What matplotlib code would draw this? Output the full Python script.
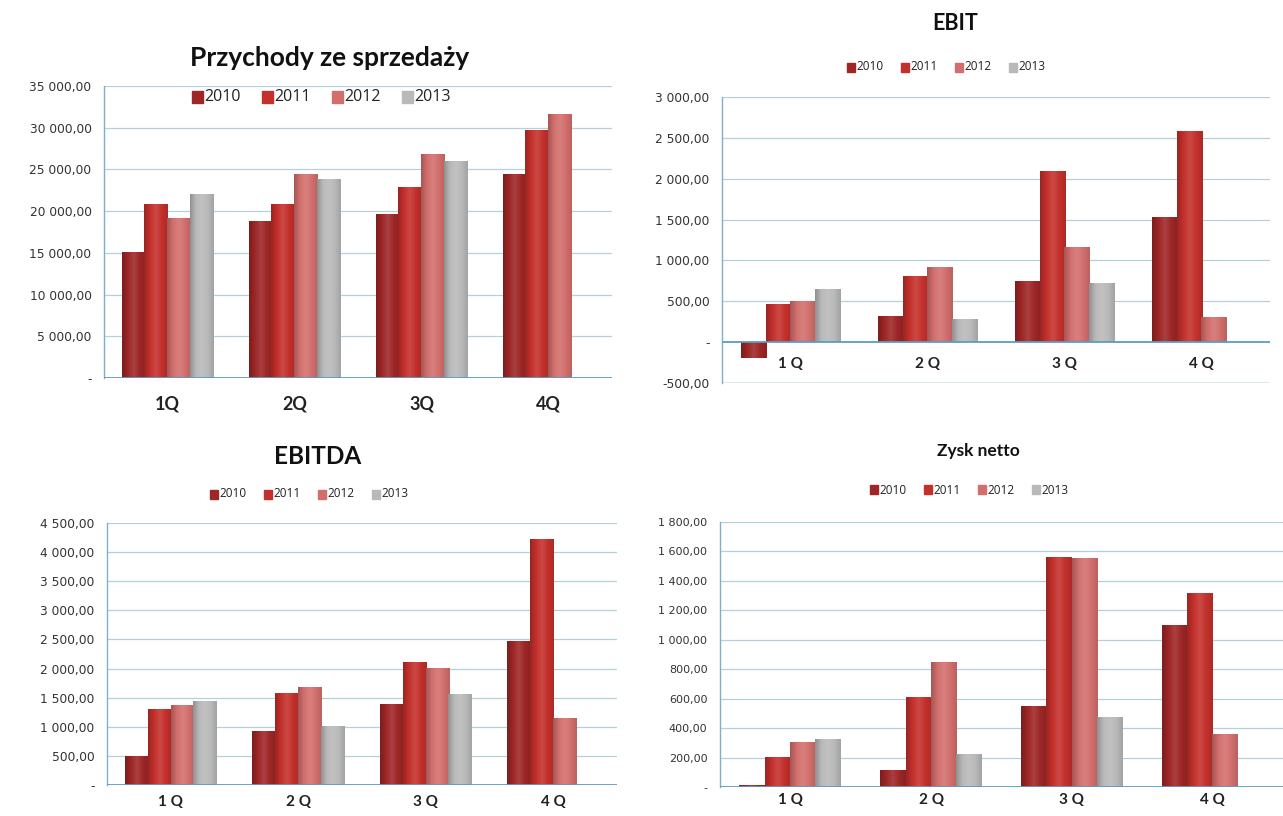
import numpy as np
import matplotlib
matplotlib.use("Agg")
import matplotlib.pyplot as plt
from matplotlib.colors import LinearSegmentedColormap, to_rgb

plt.rcParams['font.family'] = ['Lato', 'DejaVu Sans']

quarters = ["1Q", "2Q", "3Q", "4Q"]
quarters_sp = ["1 Q", "2 Q", "3 Q", "4 Q"]
years = ["2010", "2011", "2012", "2013"]

sales_2010 = [15100, 18800, 19700, 24400]
sales_2011 = [20800, 20900, 22900, 29750]
sales_2012 = [19200, 24400, 26800, 31600]
sales_2013 = [22100, 23800, 26000, np.nan]

ebit_2010 = [-200, 315, 745, 1537]
ebit_2011 = [471, 815, 2090, 2590]
ebit_2012 = [500, 918, 1164, 303]
ebit_2013 = [655, 287, 725, np.nan]

ebitda_2010 = [503, 930, 1392, 2476]
ebitda_2011 = [1303, 1588, 2115, 4225]
ebitda_2012 = [1380, 1677, 2002, 1143]
ebitda_2013 = [1450, 1007, 1570, np.nan]

netto_2010 = [15, 113, 548, 1100]
netto_2011 = [203, 609, 1563, 1315]
netto_2012 = [309, 852, 1556, 361]
netto_2013 = [327, 225, 478, np.nan]

colors = ["#9E2626", "#C4302C", "#D26F6D", "#B9B9B9"]

W, H = 1283, 816
fig = plt.figure(figsize=(W / 100, H / 100), dpi=100)
fig.patch.set_facecolor("white")


def fmt(v):
    if v == 0:
        return "-"
    s = f"{abs(v):,.2f}".replace(",", " ").replace(".", ",")
    return ("-" if v < 0 else "") + s


def shade_cmap(c):
    r, g, b = to_rgb(c)
    dark = (r * 0.78, g * 0.78, b * 0.78)
    light = tuple(min(1, x + (1 - x) * 0.12) for x in (r, g, b))
    return LinearSegmentedColormap.from_list(
        "s", [dark, (r, g, b), light, (r, g, b), (r * 0.88, g * 0.88, b * 0.88)], N=64)


def px_axes(x0, x1, ytop, ybot):
    return fig.add_axes([x0 / W, 1 - ybot / H, (x1 - x0) / W, (ybot - ytop) / H])


def draw(ax, series, ylim, yticks, xlabels, labfs, label_y, data_coords=False, tick_fs=8.8):
    n = len(series)
    gw = 0.72
    bw = gw / n
    x = np.arange(len(xlabels))
    grad = np.linspace(0, 1, 64).reshape(1, -1)
    for i, (vals, c) in enumerate(zip(series, colors)):
        pos = x - gw / 2 + bw * (i + 0.5)
        bars = ax.bar(pos, vals, width=bw * 1.02, color=c, zorder=3, linewidth=0)
        for p in bars:
            h = p.get_height()
            if not np.isfinite(h) or h == 0:
                continue
            x0 = p.get_x()
            y0, y1 = sorted([p.get_y(), p.get_y() + h])
            im = ax.imshow(grad, extent=[x0, x0 + p.get_width(), y0, y1], aspect="auto",
                           cmap=shade_cmap(c), zorder=4, interpolation="bilinear")
            im.set_clip_path(p)
    ax.set_xlim(-0.5, len(xlabels) - 0.5)
    ax.set_ylim(*ylim)
    ax.set_yticks(yticks)
    ax.set_yticklabels([fmt(t) for t in yticks], fontsize=tick_fs, color="#333333",
                       family=["DejaVu Sans"])
    for t in yticks:
        if t != 0:
            ax.axhline(t, color="#B4D0DD", lw=0.9, zorder=1)
    ax.axhline(0, color="#5C9CC4", lw=1.3, zorder=5)
    for s in ["top", "right", "bottom"]:
        ax.spines[s].set_visible(False)
    ax.spines["left"].set_color("#7FAFCB")
    ax.spines["left"].set_linewidth(1.0)
    ax.tick_params(axis="y", length=0, pad=9)
    ax.tick_params(axis="x", length=0)
    ax.set_xticks([])
    ax.set_facecolor("white")
    tr = ax.transData if data_coords else ax.get_xaxis_transform()
    for xi, lab in zip(x, xlabels):
        ax.text(xi, label_y, lab, ha="center", va="center", fontsize=labfs, fontweight="bold",
                color="#222222", transform=tr)


def legend(xc, yc, fs, gap, tfs):
    total = gap * len(years)
    start = xc - total / 2
    for i, (yr, c) in enumerate(zip(years, colors)):
        xx = start + i * gap
        fig.patches.append(plt.Rectangle((xx / W, 1 - (yc + fs * 0.5) / H), fs * 0.9 / W, fs / H,
                                         transform=fig.transFigure, color=c, figure=fig))
        fig.text((xx + fs * 1.05) / W, 1 - yc / H, yr, fontsize=tfs, va="center", ha="left",
                 color="#222222", family=["Open Sans", "DejaVu Sans"])


# Panel 1
ax1 = px_axes(104, 612, 86, 378)
draw(ax1, [sales_2010, sales_2011, sales_2012, sales_2013], (0, 35000),
     np.arange(0, 35001, 5000), quarters, 13, -0.09)
fig.text(330 / W, 1 - 58 / H, "Przychody ze sprzedaży", ha="center", va="center",
         fontsize=19, fontweight="bold", color="#111111")
legend(332, 97, 12, 70, 11.5)

# Panel 2 EBIT
ax2 = px_axes(722, 1270, 97, 383)
draw(ax2, [ebit_2010, ebit_2011, ebit_2012, ebit_2013], (-500, 3000),
     np.arange(-500, 3001, 500), quarters_sp, 11, -265, data_coords=True)
ax2.axhline(-500, color="#7FAFCB", lw=1.0, zorder=2)
fig.text(955 / W, 1 - 24 / H, "EBIT", ha="center", va="center",
         fontsize=15.5, fontweight="bold", color="#111111")
legend(955, 67, 9, 54, 8.5)

# Panel 3 EBITDA
ax3 = px_axes(107, 617, 523, 785)
draw(ax3, [ebitda_2010, ebitda_2011, ebitda_2012, ebitda_2013], (0, 4500),
     np.arange(0, 4501, 500), quarters_sp, 11, -0.065)
fig.text(318 / W, 1 - 456 / H, "EBITDA", ha="center", va="center",
         fontsize=17.5, fontweight="bold", color="#111111")
legend(318, 494, 9, 54, 8.5)

# Panel 4 Zysk netto
ax4 = px_axes(720, 1283, 522, 787)
draw(ax4, [netto_2010, netto_2011, netto_2012, netto_2013], (0, 1800),
     np.arange(0, 1801, 200), quarters_sp, 11, -0.05, tick_fs=8.0)
fig.text(978 / W, 1 - 451 / H, "Zysk netto", ha="center", va="center",
         fontsize=12.5, fontweight="bold", color="#111111")
legend(978, 490, 9, 54, 8.5)

fig.savefig("out.png", dpi=100, facecolor="white")
